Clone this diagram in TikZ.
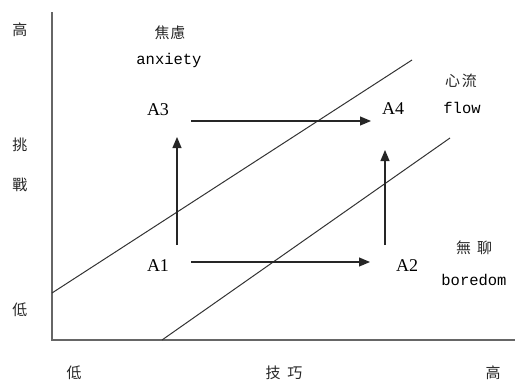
\documentclass[tikz,border=0pt]{standalone}
\usepackage{fontspec}
\setmainfont{Liberation Serif}
\newfontfamily\cjkfont{Noto Sans CJK TC}
\newfontfamily\latmono{Liberation Mono}
\usetikzlibrary{arrows.meta}
\begin{document}
\begin{tikzpicture}[x=1pt,y=-1pt,
  axisline/.style={draw=black!60,line width=1.6pt},
  diagline/.style={draw=black!80,line width=1pt},
  arr/.style={draw=black!85,line width=1.2pt,-{Triangle[length=11pt,width=9pt]}},
  cjk/.style={font=\cjkfont\fontsize{15}{15}\selectfont,text=black!85,inner sep=0pt},
  eng/.style={font=\latmono\fontsize{15.5}{15.5}\selectfont,text=black,inner sep=0pt},
  pt/.style={font=\fontsize{18}{18}\selectfont,text=black,inner sep=0pt}]
\useasboundingbox (0,0) rectangle (517,383);
% axes
\coordinate (Ytop) at (52,12);
\coordinate (O) at (52,340);
\coordinate (Xend) at (515,340);
\draw[axisline] (Ytop) -- (O) -- (Xend);
% diagonals
\coordinate (U1) at (52,293);
\coordinate (U2) at (412,60);
\coordinate (L1) at (162,340);
\coordinate (L2) at (450,138);
\draw[diagline] (U1) -- (U2);
\draw[diagline] (L1) -- (L2);
% axis labels
\node[cjk] (yhi) at (20,30) {高};
\node[cjk] (ych1) at (20,145) {挑};
\node[cjk] (ych2) at (20,185) {戰};
\node[cjk] (ylo) at (20,310) {低};
\node[cjk] (xlo) at (74,373) {低};
\node[cjk] (xmid) at (284,373) {技\hspace{7pt}巧};
\node[cjk] (xhi) at (493,373) {高};
% region labels
\node[cjk] (anxc) at (170,33) {焦\hspace{1pt}慮};
\node[eng] (anx) at (169,60) {anxiety};
\node[cjk] (flowc) at (461,81) {心\hspace{2pt}流};
\node[eng] (flow) at (462,108) {flow};
\node[cjk] (borc) at (474,248) {無\hspace{6pt}聊};
\node[eng] (bor) at (474,280) {boredom};
% states
\node[pt] (A1) at (158,266) {A1};
\node[pt] (A2) at (407,266) {A2};
\node[pt] (A3) at (158,110) {A3};
\node[pt] (A4) at (393,109) {A4};
% arrows
\draw[arr] ([xshift=19pt,yshift=21pt]A1.center) -- ([xshift=19pt,yshift=-27pt]A3.center);
\draw[arr] ([xshift=33pt,yshift=4pt]A1.center) -- ([xshift=-37pt,yshift=4pt]A2.center);
\draw[arr] ([xshift=33pt,yshift=-11pt]A3.center) -- ([xshift=-22pt,yshift=-12pt]A4.center);
\draw[arr] ([xshift=-22pt,yshift=21pt]A2.center) -- ([xshift=-8pt,yshift=-41pt]A4.center);
\end{tikzpicture}
\end{document}
